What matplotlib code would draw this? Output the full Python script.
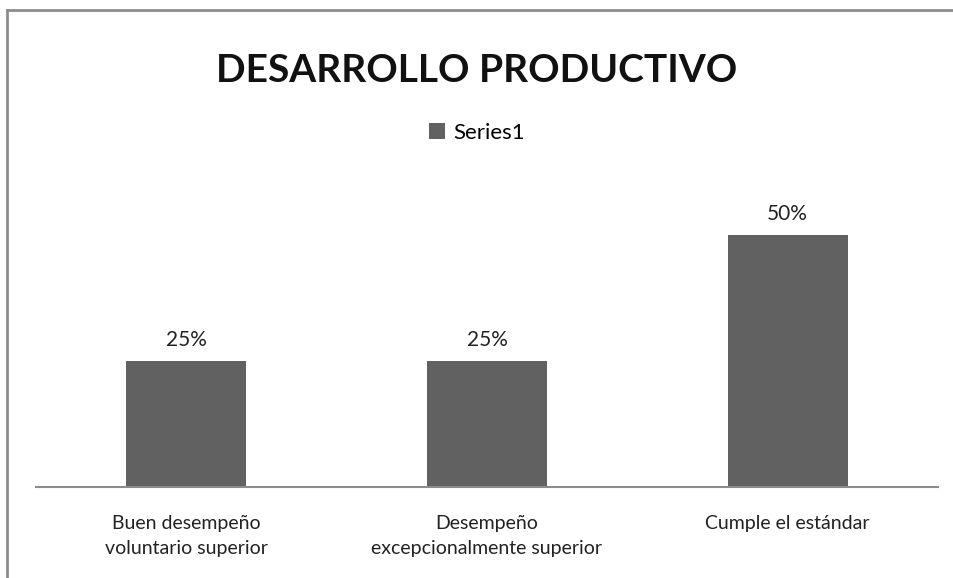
import matplotlib.pyplot as plt
from matplotlib.lines import Line2D

categories = ["Buen desempeño\nvoluntario superior",
              "Desempeño\nexcepcionalmente superior",
              "Cumple el estándar"]
values = [0.25, 0.25, 0.50]
labels = ["25%", "25%", "50%"]
series_name = "Series1"

plt.rcParams['font.family'] = ['Lato', 'DejaVu Sans']

W, H = 954, 578
fig = plt.figure(figsize=(W / 100, H / 100), dpi=100)

# marco gris del gráfico (sólo arriba e izquierda se ven)
x0, y0 = 7 / W, 1 - 10 / H
fig.add_artist(Line2D([x0, 1.0], [y0, y0], transform=fig.transFigure,
                      color='#8c8c8c', linewidth=2))
fig.add_artist(Line2D([x0, x0], [0.0, y0], transform=fig.transFigure,
                      color='#8c8c8c', linewidth=2))

ax = fig.add_axes([36 / W, 1 - 487 / H, (938 - 36) / W, 302 / H])
bars = ax.bar(range(len(values)), values, width=0.4, color='#616161',
              label=series_name, zorder=2)
ax.set_xlim(-0.5, len(values) - 0.5)
ax.set_ylim(0, 0.6)

for b, lab in zip(bars, labels):
    ax.annotate(lab, (b.get_x() + b.get_width() / 2, b.get_height()),
                xytext=(0, 8), textcoords='offset points',
                ha='center', va='bottom', fontsize=15, color='#222222')

for s in ['top', 'right', 'left']:
    ax.spines[s].set_visible(False)
ax.spines['bottom'].set_color('#8c8c8c')
ax.spines['bottom'].set_linewidth(1.5)
ax.set_yticks([])
ax.set_xticks(range(len(categories)))
ax.set_xticklabels(categories, fontsize=14, color='#222222', linespacing=1.6)
ax.tick_params(axis='x', length=0, pad=20)

fig.text(0.5, 1 - 70 / H, "DESARROLLO PRODUCTIVO", ha='center', va='center',
         fontsize=28, fontweight='bold', color='#111111')
fig.legend(handles=[bars], labels=[series_name], loc='center',
           bbox_to_anchor=(0.5, 1 - 133 / H), frameon=False, fontsize=16,
           handlelength=0.7, handleheight=0.7, handletextpad=0.4)

fig.savefig("out.png", dpi=100)
